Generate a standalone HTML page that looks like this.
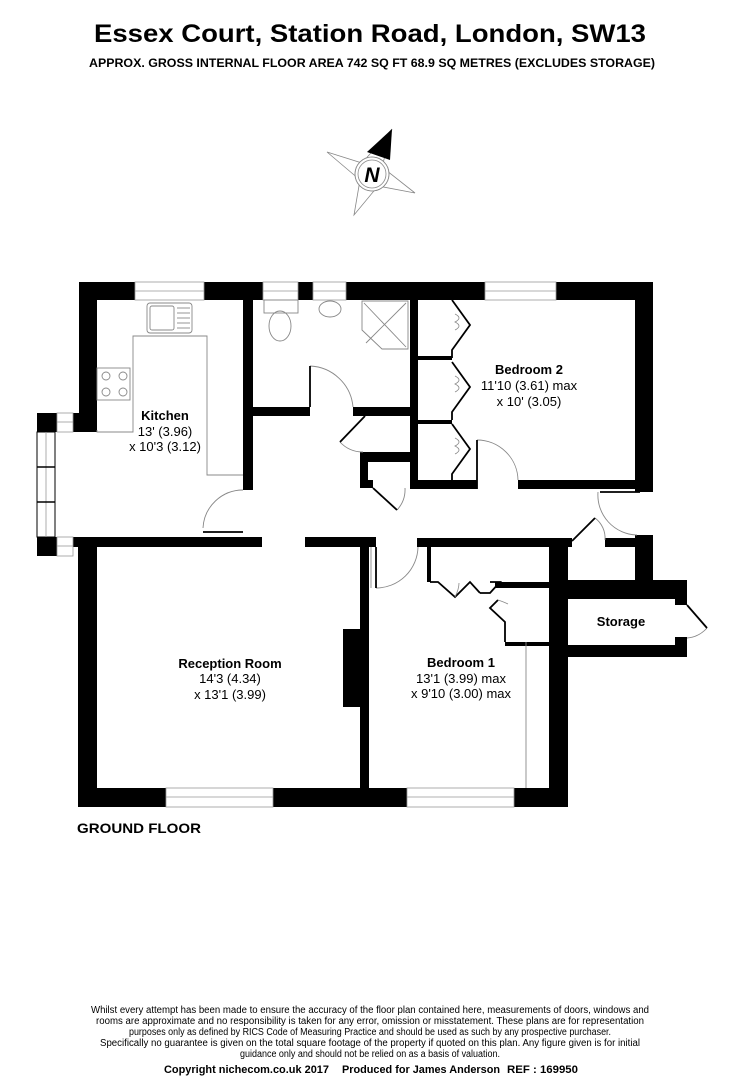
<!DOCTYPE html>
<html><head><meta charset="utf-8"><style>
html,body{margin:0;padding:0;background:#fff;}
svg{display:block;}
text{font-family:"Liberation Sans",Arial,sans-serif;fill:#000;}
</style></head><body>
<svg width="740" height="1080" viewBox="0 0 740 1080" xmlns="http://www.w3.org/2000/svg">
<text x="370" y="42" font-size="25" font-weight="bold" text-anchor="middle" textLength="552" lengthAdjust="spacingAndGlyphs">Essex Court, Station Road, London, SW13</text>
<text x="372" y="67" font-size="12" font-weight="bold" text-anchor="middle" textLength="566" lengthAdjust="spacingAndGlyphs">APPROX. GROSS INTERNAL FLOOR AREA 742 SQ FT 68.9 SQ METRES (EXCLUDES STORAGE)</text>

<g stroke="#888" stroke-width="0.8" fill="none">
<polygon points="327,152 362,163 392,129 382,167 415,193 378,186 354,215 360,180"/>
<circle cx="372" cy="174" r="17" fill="#fff"/>
<circle cx="372" cy="174" r="14"/>
</g>
<polygon points="392,129 367,152 390,160" fill="#000"/>
<circle cx="372" cy="174" r="17" fill="none" stroke="#888" stroke-width="0.8"/>
<text x="372" y="182" font-size="21" font-weight="bold" font-style="italic" text-anchor="middle">N</text>

<g fill="#000">
<rect x="79" y="282" width="56" height="18"/>
<rect x="204" y="282" width="59" height="18"/>
<rect x="298" y="282" width="15" height="18"/>
<rect x="346" y="282" width="139" height="18"/>
<rect x="556" y="282" width="97" height="18"/>
<rect x="79" y="282" width="18" height="150"/>
<rect x="73" y="413" width="24" height="19"/>
<rect x="37" y="413" width="20" height="19"/>
<rect x="37" y="537" width="20" height="19"/>
<rect x="243" y="300" width="10" height="190"/>
<rect x="253" y="407" width="57" height="9"/>
<rect x="353" y="407" width="57" height="9"/>
<rect x="410" y="300" width="8" height="189"/>
<rect x="360" y="452" width="50" height="10"/>
<rect x="360" y="452" width="8" height="36"/>
<rect x="360" y="480" width="13" height="8"/>
<rect x="410" y="480" width="67" height="9"/>
<rect x="518" y="480" width="135" height="9"/>
<rect x="635" y="282" width="18" height="210"/>
<rect x="418" y="356" width="34" height="4"/>
<rect x="418" y="420" width="34" height="4"/>
<rect x="73" y="537" width="189" height="10"/>
<rect x="305" y="537" width="71" height="10"/>
<rect x="417" y="538" width="155" height="9"/>
<rect x="605" y="538" width="30" height="9"/>
<rect x="635" y="535" width="18" height="47"/>
<rect x="78" y="547" width="19" height="260"/>
<rect x="78" y="788" width="88" height="19"/>
<rect x="273" y="788" width="134" height="19"/>
<rect x="514" y="788" width="54" height="19"/>
<rect x="360" y="547" width="9" height="241"/>
<rect x="343" y="629" width="17" height="78"/>
<rect x="549" y="547" width="19" height="260"/>
<rect x="427" y="547" width="4" height="35"/>
<rect x="495" y="582" width="54" height="6"/>
<rect x="505" y="642" width="44" height="4"/>
<rect x="550" y="580" width="137" height="19"/>
<rect x="675" y="599" width="12" height="6"/>
<rect x="550" y="645" width="137" height="12"/>
<rect x="675" y="637" width="12" height="8"/>
<rect x="550" y="599" width="18" height="46"/>
</g>

<g fill="#fff" stroke="#999" stroke-width="0.8">
<rect x="135" y="282" width="69" height="18"/>
<rect x="263" y="282" width="35" height="18"/>
<rect x="313" y="282" width="33" height="18"/>
<rect x="485" y="282" width="71" height="18"/>
<rect x="166" y="788" width="107" height="19"/>
<rect x="407" y="788" width="107" height="19"/>
<rect x="57" y="413" width="16" height="19"/>
<rect x="57" y="537" width="16" height="19"/>
</g>
<g stroke="#999" stroke-width="0.8">
<line x1="135" y1="291" x2="204" y2="291"/>
<line x1="263" y1="291" x2="298" y2="291"/>
<line x1="313" y1="291" x2="346" y2="291"/>
<line x1="485" y1="291" x2="556" y2="291"/>
<line x1="166" y1="797" x2="273" y2="797"/>
<line x1="407" y1="797" x2="514" y2="797"/>
<line x1="57" y1="422" x2="73" y2="422"/>
<line x1="57" y1="546" x2="73" y2="546"/>
</g>
<rect x="37" y="432" width="18" height="105" fill="#fff" stroke="#000" stroke-width="1"/>
<line x1="46" y1="432" x2="46" y2="537" stroke="#999" stroke-width="0.8"/>
<line x1="37" y1="467" x2="55" y2="467" stroke="#000" stroke-width="1.5"/>
<line x1="37" y1="502" x2="55" y2="502" stroke="#000" stroke-width="1.5"/>

<g fill="none" stroke="#888" stroke-width="0.9">
<polyline points="97,430 97,432 133,432 133,336 207,336 207,475 243,475"/>
<rect x="147" y="303" width="45" height="30" rx="3"/>
<rect x="150" y="306" width="24" height="24" rx="2"/>
<line x1="177" y1="308" x2="190" y2="308"/><line x1="177" y1="313" x2="190" y2="313"/><line x1="177" y1="318" x2="190" y2="318"/><line x1="177" y1="323" x2="190" y2="323"/><line x1="177" y1="328" x2="190" y2="328"/>
<rect x="97" y="368" width="33" height="32"/>
<circle cx="106" cy="376" r="4"/><circle cx="123" cy="376" r="4"/><circle cx="106" cy="392" r="4"/><circle cx="123" cy="392" r="4"/>
<rect x="264" y="300" width="34" height="13"/>
<ellipse cx="280" cy="326" rx="11" ry="15"/>
<ellipse cx="330" cy="309" rx="11" ry="8"/>
<polygon points="362,301 408,301 408,349 382,349 362,330"/>
<line x1="364" y1="303" x2="406" y2="347"/><line x1="406" y1="303" x2="366" y2="343"/>
<path d="M310,366 A45,45 0 0 1 353,407"/>
<path d="M243,490 A40,40 0 0 0 203,528"/>
<path d="M340,442 A30,30 0 0 0 363,452"/>
<path d="M397,510 A30,30 0 0 0 405,488"/>
<path d="M477,440 A41,41 0 0 1 518,480"/>
<path d="M598,492 A40,40 0 0 0 637,535"/>
<path d="M595,518 A25,25 0 0 1 605,540"/>
<path d="M376,588 A42,42 0 0 0 418,547"/>
<path d="M707,628 A30,30 0 0 1 687,638"/>
<line x1="526" y1="642" x2="526" y2="788"/>
<line x1="371" y1="547" x2="371" y2="588"/>
</g>
<g fill="none" stroke="#000" stroke-width="1.8">
<line x1="310" y1="366" x2="310" y2="407"/>
<line x1="203" y1="532" x2="243" y2="532"/>
<line x1="365" y1="416" x2="340" y2="442"/>
<line x1="373" y1="488" x2="397" y2="510"/>
<line x1="477" y1="440" x2="477" y2="489"/>
<line x1="600" y1="492" x2="640" y2="492"/>
<line x1="572" y1="541" x2="595" y2="518"/>
<line x1="376" y1="547" x2="376" y2="588"/>
<line x1="687" y1="605" x2="707" y2="628"/>
<polyline points="452,300 470,325 452,350 452,358"/>
<polyline points="452,362 470,387 452,412 452,420"/>
<polyline points="452,424 470,449 452,474 452,482"/>
<polyline points="430,582 438,582 455,597 470,582 480,593"/>
<polyline points="490,582 500,582 490,593 480,593"/>
<polyline points="498,600 490,608 505,622 505,642"/>
</g>
<g fill="none" stroke="#888" stroke-width="0.8">
<path d="M455,314 q8,4 0,8 q8,4 0,8"/><path d="M455,376 q8,4 0,8 q8,4 0,8"/><path d="M455,438 q8,4 0,8 q8,4 0,8"/>
<path d="M455,597 q4,-8 4,-14"/><path d="M498,600 q6,2 10,4"/>
</g>

<text x="165" y="420" font-size="13" font-weight="bold" text-anchor="middle">Kitchen</text>
<text x="165" y="436" font-size="13" text-anchor="middle">13' (3.96)</text>
<text x="165" y="451" font-size="13" text-anchor="middle">x 10'3 (3.12)</text>
<text x="529" y="374" font-size="13" font-weight="bold" text-anchor="middle">Bedroom 2</text>
<text x="529" y="390" font-size="13" text-anchor="middle">11'10 (3.61) max</text>
<text x="529" y="406" font-size="13" text-anchor="middle">x 10' (3.05)</text>
<text x="230" y="668" font-size="13" font-weight="bold" text-anchor="middle">Reception Room</text>
<text x="230" y="683" font-size="13" text-anchor="middle">14'3 (4.34)</text>
<text x="230" y="699" font-size="13" text-anchor="middle">x 13'1 (3.99)</text>
<text x="461" y="667" font-size="13" font-weight="bold" text-anchor="middle">Bedroom 1</text>
<text x="461" y="683" font-size="13" text-anchor="middle">13'1 (3.99) max</text>
<text x="461" y="698" font-size="13" text-anchor="middle">x 9'10 (3.00) max</text>
<text x="621" y="626" font-size="13" font-weight="bold" text-anchor="middle">Storage</text>
<text x="77" y="833" font-size="14" font-weight="bold" textLength="124" lengthAdjust="spacingAndGlyphs">GROUND FLOOR</text>

<g font-size="10" text-anchor="middle">
<text x="370" y="1013" textLength="558" lengthAdjust="spacingAndGlyphs">Whilst every attempt has been made to ensure the accuracy of the floor plan contained here, measurements of doors, windows and</text>
<text x="370" y="1024" textLength="548" lengthAdjust="spacingAndGlyphs">rooms are approximate and no responsibility is taken for any error, omission or misstatement. These plans are for representation</text>
<text x="370" y="1035" textLength="482" lengthAdjust="spacingAndGlyphs">purposes only as defined by RICS Code of Measuring Practice and should be used as such by any prospective purchaser.</text>
<text x="370" y="1046" textLength="540" lengthAdjust="spacingAndGlyphs">Specifically no guarantee is given on the total square footage of the property if quoted on this plan. Any figure given is for initial</text>
<text x="370" y="1057" textLength="260" lengthAdjust="spacingAndGlyphs">guidance only and should not be relied on as a basis of valuation.</text>
</g>
<g font-size="11" font-weight="bold">
<text x="164" y="1073" textLength="165" lengthAdjust="spacingAndGlyphs">Copyright nichecom.co.uk 2017</text>
<text x="342" y="1073" textLength="158" lengthAdjust="spacingAndGlyphs">Produced for James Anderson</text>
<text x="507" y="1073" textLength="71" lengthAdjust="spacingAndGlyphs">REF :  169950</text>
</g>
</svg>
</body></html>
